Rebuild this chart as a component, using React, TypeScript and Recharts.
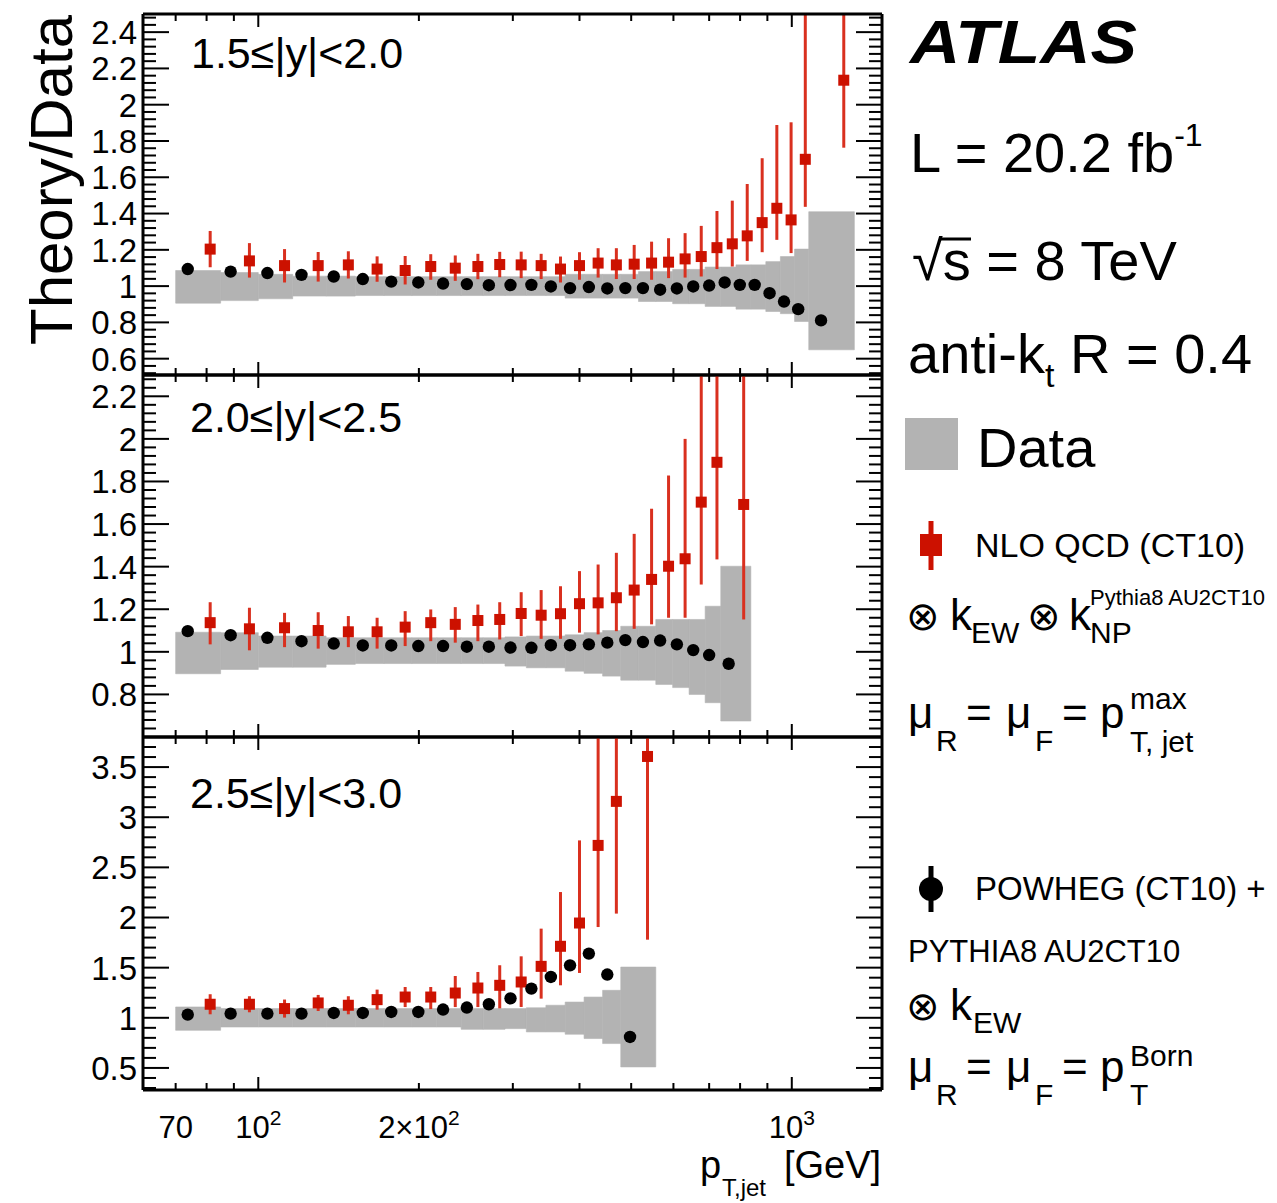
import React from 'react';
import { ComposedChart, Scatter, XAxis, YAxis, ErrorBar, ReferenceArea } from 'recharts';

const FONT = '"Liberation Sans", Arial, Helvetica, sans-serif';
const RED = '#cc1100';
const RED_BAR = '#d9301f';
const GRAY = '#b3b3b3';

// ---------- x axis (p_T,jet in GeV, log scale) ----------
const X_DOMAIN: [number, number] = [60.8, 1476];
const X_TICKS = [70, 80, 90, 100, 200, 300, 400, 500, 600, 700, 800, 900, 1000];
const X_MAJOR = [100, 1000];
const X_TICK_LABELS: Record<number, [string, string]> = {
  70: ['70', ''],
  100: ['10', '2'],
  200: ['2×10', '2'],
  1000: ['10', '3'],
};

// ---------- panel 1 : 1.5<=|y|<2.0 ----------
const edgesP1 = [70, 85, 100, 116, 134, 152, 172, 194, 216, 240, 264, 290, 318, 346, 376, 408, 442, 478, 516, 556, 598, 642, 688, 736, 786, 838, 894, 952, 1012, 1076, 1310];
const dataLoP1 = [0.906, 0.92, 0.93, 0.945, 0.945, 0.948, 0.948, 0.948, 0.948, 0.948, 0.948, 0.948, 0.948, 0.948, 0.934, 0.934, 0.934, 0.934, 0.915, 0.915, 0.903, 0.903, 0.888, 0.888, 0.873, 0.873, 0.86, 0.848, 0.805, 0.649];
const dataHiP1 = [1.086, 1.075, 1.065, 1.055, 1.055, 1.052, 1.052, 1.052, 1.052, 1.052, 1.052, 1.052, 1.052, 1.052, 1.065, 1.065, 1.065, 1.065, 1.08, 1.08, 1.092, 1.092, 1.105, 1.105, 1.117, 1.117, 1.135, 1.163, 1.204, 1.41];
const powhegPtP1 = [73.75, 88.75, 104, 120.5, 138.5, 157, 177.5, 199.5, 222, 246, 270.5, 297, 325, 353.5, 384, 416.5, 451, 487.5, 526, 566.5, 609, 653.5, 700, 748.5, 799, 852, 908.5, 967, 1028, 1134.5];
const powhegP1 = [1.094, 1.08, 1.072, 1.062, 1.053, 1.039, 1.025, 1.02, 1.014, 1.011, 1.005, 1.006, 1.007, 0.998, 0.989, 0.995, 0.987, 0.989, 0.989, 0.98, 0.987, 0.998, 1.003, 1.02, 1.007, 1.007, 0.961, 0.915, 0.873, 0.811];
const nloPtP1 = [81.25, 96.25, 112, 129.5, 147.5, 167, 188.5, 210.5, 234, 258, 283.5, 311, 339, 368.5, 400, 433.5, 469, 506.5, 546, 587.5, 631, 676.5, 724, 773.5, 825, 880, 937.5, 997, 1060, 1251.5];
const nloP1 = [1.204, 1.139, 1.113, 1.113, 1.117, 1.094, 1.086, 1.108, 1.099, 1.108, 1.119, 1.117, 1.113, 1.094, 1.113, 1.127, 1.117, 1.121, 1.127, 1.132, 1.15, 1.163, 1.212, 1.233, 1.277, 1.35, 1.429, 1.365, 1.699, 2.135];
// upward errors; the last ones are read up to where the bar leaves the frame
const nloUpP1 = [0.1, 0.098, 0.091, 0.075, 0.075, 0.07, 0.08, 0.068, 0.07, 0.07, 0.07, 0.073, 0.065, 0.069, 0.074, 0.082, 0.092, 0.106, 0.118, 0.132, 0.142, 0.169, 0.202, 0.238, 0.286, 0.355, 0.459, 0.538, 0.8, 0.364];
const nloDnP1 = [0.1, 0.092, 0.093, 0.088, 0.075, 0.07, 0.077, 0.073, 0.07, 0.07, 0.07, 0.073, 0.074, 0.074, 0.078, 0.08, 0.078, 0.082, 0.092, 0.088, 0.103, 0.11, 0.118, 0.125, 0.138, 0.163, 0.174, 0.183, 0.262, 0.372];

// ---------- panel 2 : 2.0<=|y|<2.5 ----------
const edgesP2 = [70, 85, 100, 116, 134, 152, 172, 194, 216, 240, 264, 290, 318, 346, 376, 408, 442, 478, 516, 556, 598, 642, 688, 736, 838];
const dataLoP2 = [0.897, 0.917, 0.928, 0.928, 0.941, 0.945, 0.945, 0.945, 0.945, 0.945, 0.945, 0.933, 0.925, 0.925, 0.909, 0.899, 0.886, 0.867, 0.867, 0.847, 0.832, 0.8, 0.761, 0.675];
const dataHiP2 = [1.092, 1.09, 1.074, 1.074, 1.066, 1.066, 1.066, 1.066, 1.066, 1.066, 1.066, 1.07, 1.074, 1.074, 1.08, 1.09, 1.1, 1.12, 1.12, 1.152, 1.152, 1.152, 1.214, 1.402];
const powhegPtP2 = [73.75, 88.75, 104, 120.5, 138.5, 157, 177.5, 199.5, 222, 246, 270.5, 297, 325, 353.5, 384, 416.5, 451, 487.5, 526, 566.5, 609, 653.5, 700, 761.5];
const powhegP2 = [1.097, 1.078, 1.066, 1.05, 1.039, 1.03, 1.03, 1.027, 1.027, 1.024, 1.024, 1.02, 1.019, 1.031, 1.031, 1.035, 1.043, 1.055, 1.046, 1.053, 1.035, 1.008, 0.985, 0.944];
const nloPtP2 = [81.25, 96.25, 112, 129.5, 147.5, 167, 188.5, 210.5, 234, 258, 283.5, 311, 339, 368.5, 400, 433.5, 469, 506.5, 546, 587.5, 631, 676.5, 724, 812.5];
const nloP2 = [1.137, 1.108, 1.113, 1.1, 1.094, 1.094, 1.116, 1.137, 1.129, 1.147, 1.152, 1.18, 1.172, 1.179, 1.226, 1.23, 1.254, 1.29, 1.34, 1.402, 1.437, 1.703, 1.89, 1.692];
const nloUpP2 = [0.096, 0.099, 0.07, 0.086, 0.074, 0.066, 0.075, 0.062, 0.081, 0.075, 0.081, 0.1, 0.118, 0.129, 0.153, 0.18, 0.211, 0.264, 0.332, 0.426, 0.563, 0.596, 0.409, 0.607];
const nloDnP2 = [0.102, 0.101, 0.091, 0.085, 0.072, 0.079, 0.089, 0.087, 0.086, 0.097, 0.094, 0.106, 0.111, 0.118, 0.136, 0.148, 0.157, 0.182, 0.211, 0.242, 0.277, 0.387, 0.456, 0.54];

// ---------- panel 3 : 2.5<=|y|<3.0 ----------
const edgesP3 = [70, 85, 100, 116, 134, 152, 172, 194, 216, 240, 264, 290, 318, 346, 376, 408, 442, 478, 556];
const dataLoP3 = [0.875, 0.908, 0.908, 0.908, 0.908, 0.908, 0.908, 0.908, 0.908, 0.885, 0.885, 0.892, 0.859, 0.859, 0.836, 0.793, 0.743, 0.51];
const dataHiP3 = [1.108, 1.092, 1.092, 1.092, 1.092, 1.092, 1.092, 1.092, 1.092, 1.092, 1.092, 1.092, 1.1, 1.125, 1.157, 1.207, 1.274, 1.506];
const powhegPtP3 = [73.75, 88.75, 104, 120.5, 138.5, 157, 177.5, 199.5, 222, 246, 270.5, 297, 325, 353.5, 384, 416.5, 451, 497.5];
const powhegP3 = [1.032, 1.042, 1.042, 1.042, 1.048, 1.048, 1.058, 1.058, 1.082, 1.102, 1.135, 1.194, 1.291, 1.407, 1.523, 1.64, 1.431, 0.809];
const nloPtP3 = [81.25, 96.25, 112, 129.5, 147.5, 167, 188.5, 210.5, 234, 258, 283.5, 311, 339, 368.5, 400, 433.5, 469, 536.5];
const nloP3 = [1.135, 1.135, 1.092, 1.148, 1.125, 1.181, 1.207, 1.207, 1.247, 1.297, 1.324, 1.357, 1.513, 1.713, 1.945, 2.719, 3.158, 3.606];
const nloUpP3 = [0.1, 0.08, 0.09, 0.08, 0.09, 0.1, 0.1, 0.1, 0.17, 0.16, 0.2, 0.256, 0.376, 0.541, 0.824, 1.08, 0.641, 0.193];
const nloDnP3 = [0.1, 0.08, 0.09, 0.08, 0.09, 0.1, 0.1, 0.12, 0.14, 0.19, 0.23, 0.249, 0.322, 0.389, 0.498, 0.814, 1.119, 1.827];

// ---------- helpers ----------
function makeTicks(lo: number, hi: number, step: number): number[] {
  const out: number[] = [];
  const n0 = Math.ceil(lo / step - 1e-9);
  const n1 = Math.floor(hi / step + 1e-9);
  for (let n = n0; n <= n1; n++) out.push(+(n * step).toFixed(4));
  return out;
}
const isMajor = (v: number, step: number) => Math.abs(v / step - Math.round(v / step)) < 1e-6;

const bottomXTick = (showLabels: boolean) => (props: any) => {
  const { x, y, payload } = props;
  const v = payload.value;
  const len = X_MAJOR.includes(v) ? 13 : 7;
  const lab = showLabels ? X_TICK_LABELS[v] : undefined;
  return (
    <g>
      <line x1={x} x2={x} y1={y} y2={y - len} stroke="#000" strokeWidth={2} />
      {lab && (
        <text x={x} y={y + 48} textAnchor="middle" fontSize={31} fontFamily={FONT} fill="#000">
          {lab[0]}
          {lab[1] && (
            <tspan dy={-13} fontSize={21}>
              {lab[1]}
            </tspan>
          )}
        </text>
      )}
    </g>
  );
};
const topXTick = (props: any) => {
  const { x, y, payload } = props;
  const v = payload.value;
  const len = X_MAJOR.includes(v) ? 13 : 7;
  return <line x1={x} x2={x} y1={y} y2={y + len} stroke="#000" strokeWidth={2} />;
};
const leftYTick = (step: number) => (props: any) => {
  const { x, y, payload } = props;
  const v = payload.value;
  const major = isMajor(v, step);
  return (
    <g>
      <line x1={x} x2={x + (major ? 26 : 13)} y1={y} y2={y} stroke="#000" strokeWidth={2} />
      {major && (
        <text x={x - 6} y={y} dy="0.36em" textAnchor="end" fontSize={33} fontFamily={FONT} fill="#000">
          {String(v)}
        </text>
      )}
    </g>
  );
};
const rightYTick = (step: number) => (props: any) => {
  const { x, y, payload } = props;
  const major = isMajor(payload.value, step);
  return <line x1={x} x2={x - (major ? 26 : 13)} y1={y} y2={y} stroke="#000" strokeWidth={2} />;
};

const RedSquare = (props: any) => {
  const { cx, cy } = props;
  if (cx == null || cy == null) return <g />;
  return <rect x={cx - 5.5} y={cy - 5.5} width={11} height={11} fill={RED} />;
};
const BlackDot = (props: any) => {
  const { cx, cy } = props;
  if (cx == null || cy == null) return <g />;
  return <circle cx={cx} cy={cy} r={6.2} fill="#000" />;
};

type PanelProps = {
  top: number;
  height: number;
  marginBottom: number;
  yDomain: [number, number];
  minorStep: number;
  majorStep: number;
  tickLo: number;
  edges: number[];
  lo: number[];
  hi: number[];
  powhegPt: number[];
  powheg: number[];
  nloPt: number[];
  nlo: number[];
  nloUp: number[];
  nloDn: number[];
  showXLabels: boolean;
};

function Panel(p: PanelProps) {
  const yTicks = makeTicks(p.tickLo, p.yDomain[1], p.minorStep);
  const blackData = p.powhegPt.map((x, i) => ({ x, y: p.powheg[i] }));
  const redData = p.nloPt.map((x, i) => ({ x, y: p.nlo[i], err: [p.nloDn[i], p.nloUp[i]] }));
  const axisLine = { stroke: '#000', strokeWidth: 3 };
  return (
    <div style={{ position: 'absolute', left: 0, top: p.top }}>
      <ComposedChart width={900} height={p.height} margin={{ top: 9, right: 17, bottom: p.marginBottom - 1, left: 0 }}>
        <XAxis
          xAxisId={0}
          dataKey="x"
          type="number"
          scale="log"
          domain={X_DOMAIN}
          allowDataOverflow
          ticks={X_TICKS}
          interval={0}
          height={1}
          tickSize={0}
          tickMargin={0}
          tickLine={false}
          axisLine={axisLine}
          tick={bottomXTick(p.showXLabels)}
        />
        <XAxis
          xAxisId="t"
          orientation="top"
          dataKey="x"
          type="number"
          scale="log"
          domain={X_DOMAIN}
          allowDataOverflow
          ticks={X_TICKS}
          interval={0}
          height={1}
          tickSize={0}
          tickMargin={0}
          tickLine={false}
          axisLine={axisLine}
          tick={topXTick}
        />
        <YAxis
          yAxisId={0}
          dataKey="y"
          type="number"
          domain={p.yDomain}
          allowDataOverflow
          ticks={yTicks}
          interval={0}
          width={143}
          tickSize={0}
          tickMargin={0}
          tickLine={false}
          axisLine={axisLine}
          tick={leftYTick(p.majorStep)}
        />
        <YAxis
          yAxisId="r"
          orientation="right"
          dataKey="y"
          type="number"
          domain={p.yDomain}
          allowDataOverflow
          ticks={yTicks}
          interval={0}
          width={1}
          tickSize={0}
          tickMargin={0}
          tickLine={false}
          axisLine={axisLine}
          tick={rightYTick(p.majorStep)}
        />
        {p.edges.slice(0, -1).map((e, i) => (
          <ReferenceArea
            key={'band' + i}
            x1={e}
            x2={p.edges[i + 1]}
            y1={p.lo[i]}
            y2={p.hi[i]}
            fill={GRAY}
            fillOpacity={1}
            stroke={GRAY}
            strokeWidth={0.6}
            ifOverflow="visible"
          />
        ))}
        <Scatter data={redData} isAnimationActive={false} shape={RedSquare}>
          <ErrorBar dataKey="err" direction="y" width={0} stroke={RED_BAR} strokeWidth={3} />
        </Scatter>
        <Scatter data={blackData} isAnimationActive={false} shape={BlackDot} />
      </ComposedChart>
    </div>
  );
}

const T = (props: any) => <text fontFamily={FONT} fill="#000" {...props} />;

export default function App() {
  return (
    <div style={{ position: 'absolute', left: 0, top: 0, width: 1277, height: 1203, background: '#fff' }}>
      <Panel
        top={4}
        height={381}
        marginBottom={10}
        yDomain={[0.51, 2.5]}
        minorStep={0.04}
        majorStep={0.2}
        tickLo={0.51}
        edges={edgesP1}
        lo={dataLoP1}
        hi={dataHiP1}
        powhegPt={powhegPtP1}
        powheg={powhegP1}
        nloPt={nloPtP1}
        nlo={nloP1}
        nloUp={nloUpP1}
        nloDn={nloDnP1}
        showXLabels={false}
      />
      <Panel
        top={365}
        height={382}
        marginBottom={10}
        yDomain={[0.6, 2.3]}
        minorStep={0.04}
        majorStep={0.2}
        tickLo={0.61}
        edges={edgesP2}
        lo={dataLoP2}
        hi={dataHiP2}
        powhegPt={powhegPtP2}
        powheg={powhegP2}
        nloPt={nloPtP2}
        nlo={nloP2}
        nloUp={nloUpP2}
        nloDn={nloDnP2}
        showXLabels={false}
      />
      <Panel
        top={727}
        height={476}
        marginBottom={113}
        yDomain={[0.28, 3.8]}
        minorStep={0.1}
        majorStep={0.5}
        tickLo={0.28}
        edges={edgesP3}
        lo={dataLoP3}
        hi={dataHiP3}
        powhegPt={powhegPtP3}
        powheg={powhegP3}
        nloPt={nloPtP3}
        nlo={nloP3}
        nloUp={nloUpP3}
        nloDn={nloDnP3}
        showXLabels={true}
      />
      <svg width={1277} height={1203} style={{ position: 'absolute', left: 0, top: 0, pointerEvents: 'none' }}>
        {/* y axis title */}
        <T transform="translate(72,180) rotate(-90)" textAnchor="middle" fontSize={60} textLength={330} lengthAdjust="spacingAndGlyphs">
          Theory/Data
        </T>
        {/* panel labels */}
        <T x={191} y={68} fontSize={43}>{'1.5≤|y|<2.0'}</T>
        <T x={190} y={432} fontSize={43}>{'2.0≤|y|<2.5'}</T>
        <T x={190} y={808} fontSize={43}>{'2.5≤|y|<3.0'}</T>
        {/* x axis title */}
        <T x={700} y={1178} fontSize={38}>p</T>
        <T x={722} y={1196} fontSize={24}>T,jet</T>
        <T x={784} y={1178} fontSize={38}>[GeV]</T>
        {/* right-hand legend */}
        <T x={910} y={63} fontSize={62} fontWeight="bold" fontStyle="italic" textLength={227} lengthAdjust="spacingAndGlyphs">
          ATLAS
        </T>
        <T x={910} y={172} fontSize={56}>
          L = 20.2 fb
          <tspan fontSize={32} dy={-26}>
            -1
          </tspan>
        </T>
        <T x={912} y={280} fontSize={56}>√s = 8 TeV</T>
        <line x1={941} x2={971} y1={239} y2={239} stroke="#000" strokeWidth={3} />
        <T x={908} y={373} fontSize={56}>
          anti-k
          <tspan fontSize={34} dy={14}>
            t
          </tspan>
          <tspan dy={-14}> R = 0.4</tspan>
        </T>
        <rect x={905} y={418} width={53} height={52} fill={GRAY} />
        <T x={977} y={467} fontSize={56}>Data</T>
        <line x1={931} x2={931} y1={521} y2={570} stroke={RED} strokeWidth={5} />
        <rect x={920} y={534} width={22} height={22} fill={RED} />
        <T x={975} y={557} fontSize={34}>NLO QCD (CT10)</T>
        <T x={906} y={630} fontSize={40}>⊗</T>
        <T x={950} y={630} fontSize={44}>k</T>
        <T x={971} y={643} fontSize={30}>EW</T>
        <T x={1027} y={630} fontSize={40}>⊗</T>
        <T x={1069} y={630} fontSize={44}>k</T>
        <T x={1090} y={643} fontSize={30}>NP</T>
        <T x={1090} y={605} fontSize={22}>Pythia8 AU2CT10</T>
        <T x={908} y={728} fontSize={44}>μ</T>
        <T x={936} y={751} fontSize={30}>R</T>
        <T x={966} y={728} fontSize={44}>=</T>
        <T x={1006} y={728} fontSize={44}>μ</T>
        <T x={1035} y={751} fontSize={30}>F</T>
        <T x={1062} y={728} fontSize={44}>=</T>
        <T x={1100} y={728} fontSize={44}>p</T>
        <T x={1130} y={709} fontSize={30}>max</T>
        <T x={1130} y={752} fontSize={30}>T, jet</T>
        <line x1={931} x2={931} y1={866} y2={912} stroke="#000" strokeWidth={5} />
        <circle cx={931} cy={889} r={12} fill="#000" />
        <T x={975} y={900} fontSize={33}>POWHEG (CT10) +</T>
        <T x={908} y={962} fontSize={31}>PYTHIA8 AU2CT10</T>
        <T x={906} y={1020} fontSize={40}>⊗</T>
        <T x={950} y={1020} fontSize={44}>k</T>
        <T x={973} y={1033} fontSize={30}>EW</T>
        <T x={908} y={1082} fontSize={44}>μ</T>
        <T x={936} y={1105} fontSize={30}>R</T>
        <T x={966} y={1082} fontSize={44}>=</T>
        <T x={1006} y={1082} fontSize={44}>μ</T>
        <T x={1035} y={1105} fontSize={30}>F</T>
        <T x={1062} y={1082} fontSize={44}>=</T>
        <T x={1100} y={1082} fontSize={44}>p</T>
        <T x={1130} y={1066} fontSize={30}>Born</T>
        <T x={1130} y={1105} fontSize={30}>T</T>
      </svg>
    </div>
  );
}
